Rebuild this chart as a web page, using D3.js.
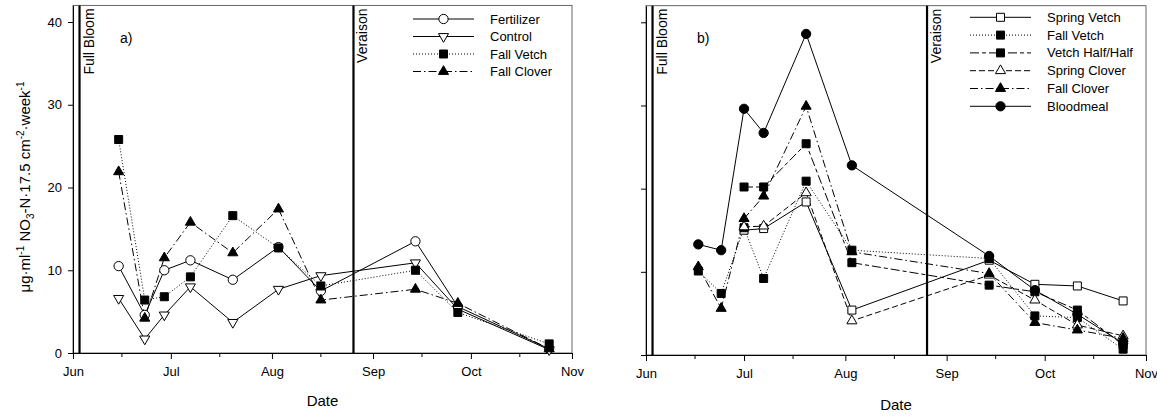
<!DOCTYPE html>
<html lang="en">
<head>
<meta charset="utf-8">
<title>Nitrate over the season</title>
<script src="https://d3js.org/d3.v7.min.js"></script>
<style>
  body { margin: 0; background: #fff; }
  svg text { font-family: "Liberation Sans", Arial, sans-serif; fill: #000; }
</style>
</head>
<body>
<svg id="chart" width="1157" height="416"></svg>
<script>
// ---- data, panel a ----
const datesA = ["2001-06-15", "2001-06-23", "2001-06-29", "2001-07-07", "2001-07-20",
                "2001-08-03", "2001-08-16", "2001-09-14", "2001-09-27", "2001-10-25"];
const fertilizer  = [10.5, 4.6, 10.0, 11.2, 8.85, 12.8, 7.5, 13.5, 5.6, 0.5];
const control     = [6.6, 1.7, 4.6, 8.0, 3.7, 7.7, 9.35, 10.9, 5.3, 0.4];
const fallVetchA  = [25.8, 6.4, 6.8, 9.2, 16.6, 12.7, 8.1, 10.0, 4.9, 1.1];
const fallCloverA = [21.9, 4.2, 11.5, 15.8, 12.1, 17.4, 6.4, 7.7, 6.0, 0.5];

// ---- data, panel b ----
const datesB = ["2001-06-17", "2001-06-24", "2001-07-01", "2001-07-07", "2001-07-20",
                "2001-08-03", "2001-09-14", "2001-09-28", "2001-10-11", "2001-10-25"];
const springVetch  = [null, null, 15.0, 15.2, 18.4, 5.4, 11.4, 8.5, 8.3, 6.5];
const fallVetchB   = [10.1, 7.4, 15.3, 9.2, 20.9, 12.6, 11.6, 4.7, 4.5, 0.7];
const vetchHalf    = [null, null, 20.2, 20.2, 25.4, 11.1, 8.4, 7.6, 5.4, 1.2];
const springClover = [null, null, 15.4, 15.5, 19.5, 4.1, 9.6, 6.6, 3.6, 2.3];
const fallCloverB  = [10.6, 5.6, 16.4, 19.1, 29.9, 12.4, 9.8, 3.9, 3.0, 2.0];
const bloodmeal    = [13.3, 12.6, 29.6, 26.7, 38.6, 22.8, 11.9, 7.8, 4.9, 1.4];

const yTicks = [0, 10, 20, 30, 40];
const monthTicks = ["2001-06-01", "2001-07-01", "2001-08-01", "2001-09-01", "2001-10-01", "2001-11-01"];
const fullBloom = "2001-06-03";
const veraison = "2001-08-26";

const parse = d3.timeParse("%Y-%m-%d");
const svg = d3.select("#chart");

// line styles and markers
const styles = {
  solid: null,
  dotted: "1,2",
  dashdot: "8,3,1.5,3",
  longshort: "9,3,4,3",
  dashed: "6,3"
};
const markers = {
  circleOpen:  {type: d3.symbolCircle, size: 68, fill: "#fff", rot: 0},
  circle:      {type: d3.symbolCircle, size: 68, fill: "#000", rot: 0},
  triDownOpen: {type: d3.symbolTriangle, size: 44, fill: "#fff", rot: 180},
  triOpen:     {type: d3.symbolTriangle, size: 44, fill: "#fff", rot: 0},
  tri:         {type: d3.symbolTriangle, size: 44, fill: "#000", rot: 0},
  square:      {type: d3.symbolSquare, size: 64, fill: "#000", rot: 0},
  squareOpen:  {type: d3.symbolSquare, size: 64, fill: "#fff", rot: 0}
};

function drawMarker(g, m, x, y) {
  g.append("path")
    .attr("d", d3.symbol().type(m.type).size(m.size)())
    .attr("transform", `translate(${x},${y}) rotate(${m.rot})`)
    .attr("fill", m.fill)
    .attr("stroke", "#000")
    .attr("stroke-width", 1);
}

function panel(cfg) {
  const g = svg.append("g");
  const x = d3.scaleTime()
    .domain([parse("2001-06-01"), parse("2001-11-01")])
    .range([cfg.left, cfg.right]);
  // keep the 0..40 spacing
  const y = d3.scaleLinear().domain([0, 42])
    .range([cfg.bottom, cfg.bottom - (cfg.bottom - cfg.y40) * 42 / 40]);

  // frame
  g.append("rect")
    .attr("x", cfg.left).attr("y", y(42))
    .attr("width", cfg.right - cfg.left).attr("height", cfg.bottom - y(42))
    .attr("fill", "none").attr("stroke", "#666").attr("stroke-width", 1);

  // y axis
  const yAxis = d3.axisLeft(y).tickValues(yTicks).tickSize(5).tickPadding(6).tickSizeOuter(0);
  if (!cfg.yLabels) yAxis.tickFormat("");
  g.append("g").attr("transform", `translate(${cfg.left},0)`).call(yAxis)
    .call(a => a.selectAll("text").attr("font-size", 13))
    .call(a => a.select(".domain").attr("stroke", "#000"));

  // x axis, majors on month starts, minors mid month
  const xAxis = d3.axisBottom(x).tickValues(monthTicks.map(parse))
    .tickFormat(d3.timeFormat("%b")).tickSize(6).tickPadding(8).tickSizeOuter(0);
  g.append("g").attr("transform", `translate(0,${cfg.bottom})`).call(xAxis)
    .call(a => a.selectAll("text").attr("font-size", 13))
    .call(a => a.select(".domain").attr("stroke", "#000"));
  const minor = monthTicks.slice(0, 5).map(d => d3.timeDay.offset(parse(d), 15));
  g.selectAll(".minor").data(minor).join("line")
    .attr("x1", d => x(d)).attr("x2", d => x(d))
    .attr("y1", cfg.bottom).attr("y2", cfg.bottom + 4)
    .attr("stroke", "#000");

  // event lines
  [[fullBloom, "Full Bloom"], [veraison, "Veraison"]].forEach(([d, label]) => {
    const xx = x(parse(d));
    g.append("line").attr("x1", xx).attr("x2", xx).attr("y1", y(42)).attr("y2", cfg.bottom)
      .attr("stroke", "#000").attr("stroke-width", 2.2);
    g.append("text")
      .attr("transform", `translate(${xx + 14},${y(42) + 3}) rotate(-90)`)
      .attr("text-anchor", "end").attr("font-size", 14).text(label);
  });

  g.append("text").attr("x", cfg.tagX).attr("y", 43).attr("font-size", 14).text(cfg.tag);

  const dates = cfg.dates.map(parse);
  cfg.series.forEach(s => {
    const pts = s.values.map((v, i) => [dates[i], v]).filter(p => p[1] != null);
    g.append("path")
      .attr("d", d3.line().x(p => x(p[0])).y(p => y(p[1]))(pts))
      .attr("fill", "none").attr("stroke", "#000").attr("stroke-width", 1)
      .attr("stroke-dasharray", styles[s.line]);
  });
  cfg.series.forEach(s => {
    s.values.forEach((v, i) => {
      if (v != null) drawMarker(g, markers[s.marker], x(dates[i]), y(v));
    });
  });

  // legend
  cfg.series.forEach((s, i) => {
    const ly = cfg.legY + i * cfg.legStep;
    g.append("line").attr("x1", cfg.legX).attr("x2", cfg.legX + 61)
      .attr("y1", ly).attr("y2", ly)
      .attr("stroke", "#000").attr("stroke-dasharray", styles[s.line]);
    drawMarker(g, markers[s.marker], cfg.legX + 30.5, ly);
    g.append("text").attr("x", cfg.legX + 77).attr("y", ly).attr("dy", "0.35em")
      .attr("font-size", 13).text(s.name);
  });

  g.append("text").attr("x", (cfg.left + cfg.right) / 2).attr("y", cfg.dateY)
    .attr("text-anchor", "middle").attr("font-size", 15).text("Date");
}

panel({
  left: 73, right: 572, top: 5, bottom: 353, y40: 22,
  yLabels: true, tag: "a)", tagX: 120,
  dates: datesA, dateY: 406,
  legX: 413, legY: 19, legStep: 17.5,
  series: [
    {name: "Fertilizer", values: fertilizer, line: "solid", marker: "circleOpen"},
    {name: "Control", values: control, line: "solid", marker: "triDownOpen"},
    {name: "Fall Vetch", values: fallVetchA, line: "dotted", marker: "square"},
    {name: "Fall Clover", values: fallCloverA, line: "dashdot", marker: "tri"}
  ]
});

panel({
  left: 646, right: 1146, top: 5, bottom: 355, y40: 22.3,
  yLabels: false, tag: "b)", tagX: 697,
  dates: datesB, dateY: 410,
  legX: 970, legY: 17.3, legStep: 17.8,
  series: [
    {name: "Spring Vetch", values: springVetch, line: "solid", marker: "squareOpen"},
    {name: "Fall Vetch", values: fallVetchB, line: "dotted", marker: "square"},
    {name: "Vetch Half/Half", values: vetchHalf, line: "longshort", marker: "square"},
    {name: "Spring Clover", values: springClover, line: "dashed", marker: "triOpen"},
    {name: "Fall Clover", values: fallCloverB, line: "dashdot", marker: "tri"},
    {name: "Bloodmeal", values: bloodmeal, line: "solid", marker: "circle"}
  ]
});

// y axis title with super/subscripts
const yt = svg.append("text")
  .attr("transform", "translate(30,187) rotate(-90)")
  .attr("text-anchor", "middle").attr("font-size", 15);
const parts = [
  ["μg·ml", 0], ["-1", 1], [" NO", 0], ["3", -1], ["-N·17.5 cm", 0], ["-2", 1],
  ["·week", 0], ["-1", 1]
];
let shift = 0;
parts.forEach(([t, k]) => {
  const target = k === 1 ? -6 : k === -1 ? 4 : 0;
  yt.append("tspan").attr("dy", target - shift)
    .attr("font-size", k === 0 ? 15 : 10).text(t);
  shift = target;
});
</script>
</body>
</html>
